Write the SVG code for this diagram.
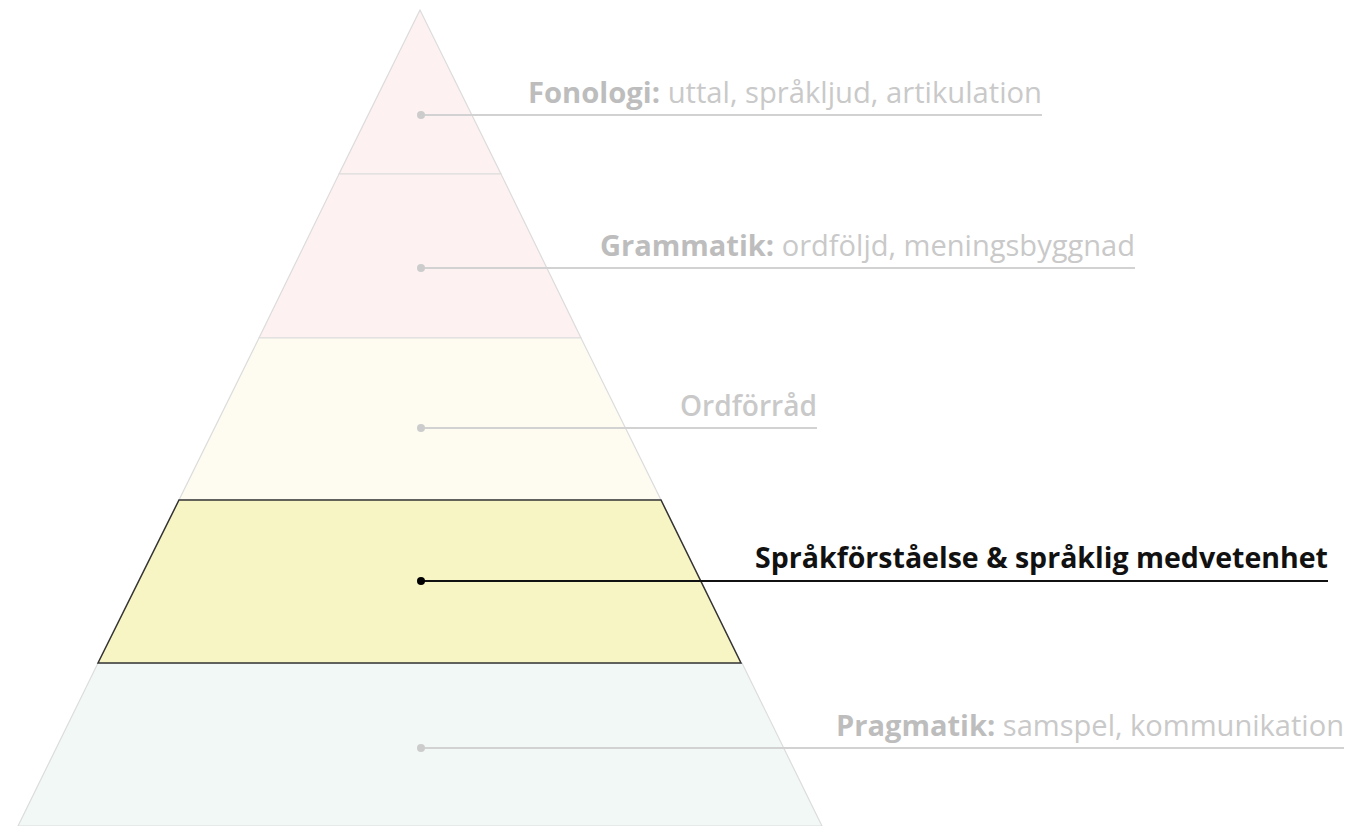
<svg xmlns="http://www.w3.org/2000/svg" width="1362" height="826" viewBox="0 0 1362 826">
<style>
.lay{stroke:#dcdcdc;stroke-width:1.2}
.lbl{font-family:"Open Sans","Noto Sans",sans-serif;font-size:29px;fill:#c9c9c9;text-anchor:end}
.lbl .b{font-weight:bold;fill:#bdbdbd}
.con{stroke:#d2d2d2;stroke-width:2;fill:none}
.dot{fill:#cccccc}
</style>
<rect width="1362" height="826" fill="#ffffff"/>
<g id="layer-fonologi">
<polygon class="lay" points="420,10 339,174 501,174" fill="#fdf2f1"/>
</g>
<g id="layer-grammatik">
<polygon class="lay" points="339,174 501,174 581,338 259,338" fill="#fdf2f1"/>
</g>
<g id="layer-ordforrad">
<polygon class="lay" points="259,338 581,338 661,500 179,500" fill="#fefcf1"/>
</g>
<g id="layer-pragmatik">
<polygon class="lay" points="98,663 742,663 822,826 18,826" fill="#f1f8f5"/>
</g>
<g id="layer-sprakforstaelse">
<polygon points="179,500 661,500 741,663 98,663" fill="#f8f5c4" stroke="#333" stroke-width="1.5"/>
</g>
<g id="connectors">
<line class="con" x1="421" y1="115" x2="1042" y2="115"/>
<circle class="dot" cx="421" cy="115" r="4"/>
<line class="con" x1="421" y1="268" x2="1135" y2="268"/>
<circle class="dot" cx="421" cy="268" r="4"/>
<line class="con" x1="421" y1="428" x2="817" y2="428"/>
<circle class="dot" cx="421" cy="428" r="4"/>
<line x1="421" y1="581" x2="1328" y2="581" stroke="#111" stroke-width="2"/>
<circle cx="421" cy="581" r="4" fill="#000"/>
<line class="con" x1="421" y1="748" x2="1344" y2="748"/>
<circle class="dot" cx="421" cy="748" r="4"/>
</g>
<g id="label-fonologi">
<text class="lbl" x="1042" y="103" textLength="514" lengthAdjust="spacingAndGlyphs"><tspan class="b">Fonologi:</tspan> uttal, språkljud, artikulation</text>
</g>
<g id="label-grammatik">
<text class="lbl" x="1135" y="256" textLength="535" lengthAdjust="spacingAndGlyphs"><tspan class="b">Grammatik:</tspan> ordföljd, meningsbyggnad</text>
</g>
<g id="label-ordforrad">
<text class="lbl" x="817" y="416" font-weight="600" fill="#c4c4c4" textLength="137" lengthAdjust="spacingAndGlyphs">Ordförråd</text>
</g>
<g id="label-sprakforstaelse">
<text x="1328" y="568" text-anchor="end" font-family="'Open Sans','Noto Sans',sans-serif" font-size="29" font-weight="bold" fill="#111" textLength="573" lengthAdjust="spacingAndGlyphs">Språkförståelse &amp; språklig medvetenhet</text>
</g>
<g id="label-pragmatik">
<text class="lbl" x="1344" y="736" textLength="508" lengthAdjust="spacingAndGlyphs"><tspan class="b">Pragmatik:</tspan> samspel, kommunikation</text>
</g>
</svg>
